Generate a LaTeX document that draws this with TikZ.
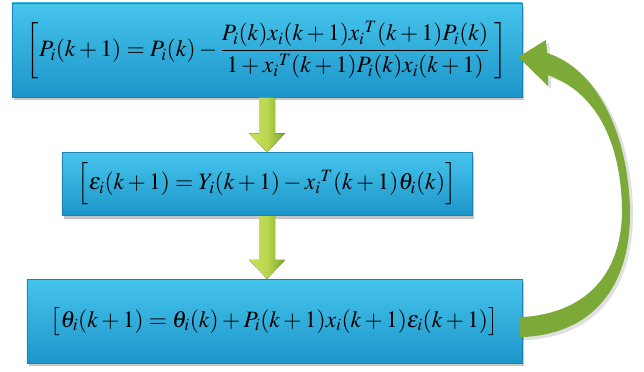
\documentclass[tikz,border=0pt]{standalone}
\usepackage{amsmath}
\usepackage{mathptmx}
\usepackage{xcolor}
\usepackage{tikz}
\usetikzlibrary{positioning, calc, shadows}
\definecolor{boxtop}{RGB}{70,196,236}
\definecolor{boxbot}{RGB}{28,150,202}
\definecolor{boxedge}{RGB}{30,130,180}
\definecolor{arrlight}{RGB}{205,226,90}
\definecolor{arrdark}{RGB}{120,165,40}
\definecolor{loopgreen}{RGB}{124,170,56}

\begin{document}
\begin{tikzpicture}[
  x=0.03cm, y=-0.03cm,
  eqbox/.style={rectangle, draw=boxedge, line width=0.5pt, top color=boxtop, bottom color=boxbot,
                drop shadow={shadow xshift=0.07cm, shadow yshift=-0.09cm, opacity=0.45},
                inner sep=0pt, font=\fontsize{20}{24}\selectfont},
  arrbody/.style={left color=arrlight, right color=arrdark, middle color=arrlight!80!arrdark},
  loop/.style={fill=loopgreen},
]
\useasboundingbox (0,0) rectangle (644,372);

\node[eqbox, minimum width=15.3cm, minimum height=2.82cm] (b1) at (267,50)
  {$\left[P_i(k+1)=P_i(k)-\dfrac{P_i(k)x_i(k+1)x_i{}^T(k+1)P_i(k)}{1+x_i{}^T(k+1)P_i(k)x_i(k+1)}\;\right]$};
\node[eqbox, minimum width=12.3cm, minimum height=1.89cm, below=1.65cm of b1] (b2)
  {$\Big[\varepsilon_i(k+1)=Y_i(k+1)-x_i{}^T(k+1)\theta_i(k)\Big]$};
\node[eqbox, minimum width=14.85cm, minimum height=2.52cm, below=1.89cm of b2, xshift=0.22cm] (b3)
  {$\big[\theta_i(k+1)=\theta_i(k)+P_i(k+1)x_i(k+1)\varepsilon_i(k+1)\big]$};

% down arrows
\coordinate (a1) at (b1.south |- b2.north);
\coordinate (a2) at (b2.south |- b3.north);
\fill[arrbody] ($(b1.south)+(-8,0)$) -- ($(a1)+(-8,-19)$) -- ($(a1)+(-18,-19)$)
  -- (a1) -- ($(a1)+(18,-19)$) -- ($(a1)+(8,-19)$) -- ($(b1.south)+(8,0)$) -- cycle;
\fill[arrbody] ($(b2.south)+(-8,0)$) -- ($(a2)+(-8,-19)$) -- ($(a2)+(-18,-19)$)
  -- (a2) -- ($(a2)+(18,-19)$) -- ($(a2)+(8,-19)$) -- ($(b2.south)+(8,0)$) -- cycle;

% loop back
\path (b3.east) ++(-2,-4) coordinate (t1) ++(0,20) coordinate (t2);
\path (b1.east) ++(-4,7) coordinate (tip);
\fill[black, opacity=0.12] ([shift={(3,3)}]t1) .. controls (588,314) and (625,275) .. (625,210)
  .. controls (624,140) and (598,92) .. (551,78) -- (551,89) -- ([shift={(3,3)}]tip) -- (549,43) -- (550,56)
  .. controls (598,71) and (631,130) .. (633,210) .. controls (634,293) and (593,338) .. ([shift={(3,3)}]t2) -- cycle;
\fill[loop] (t1) .. controls (585,314) and (622,275) .. (622,210)
  .. controls (621,140) and (595,92) .. (548,75) -- (548,86) -- (tip) -- (546,40) -- (547,53)
  .. controls (595,68) and (628,130) .. (630,210) .. controls (631,290) and (590,335) .. (t2) -- cycle;
\end{tikzpicture}
\end{document}
